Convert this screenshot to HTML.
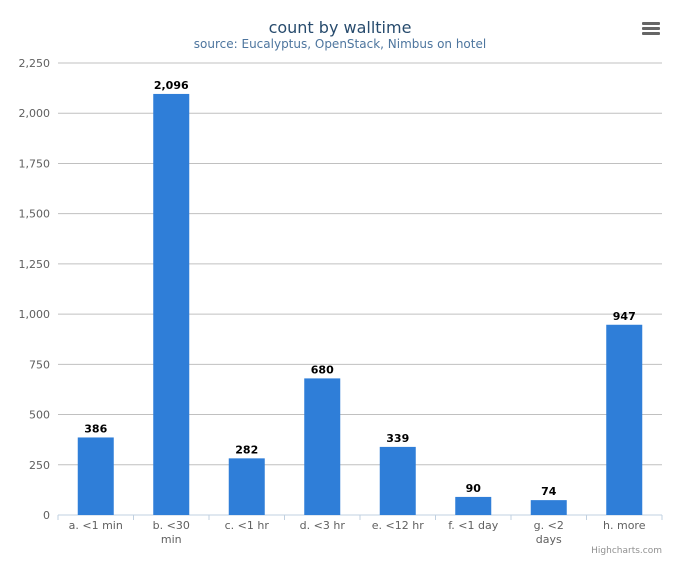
<!DOCTYPE html>
<html><head><meta charset="utf-8"><style>
body{margin:0;background:#fff;font-family:"DejaVu Sans","Liberation Sans",sans-serif;}
svg text{font-family:"DejaVu Sans","Liberation Sans",sans-serif;}
</style></head><body>
<svg id="chart" width="680" height="566">
<rect width="680" height="566" fill="#fff"/>
<text x="340" y="33" text-anchor="middle" font-size="16" fill="#274b6d">count by walltime</text>
<text x="340" y="48" text-anchor="middle" font-size="12" fill="#4d759e">source: Eucalyptus, OpenStack, Nimbus on hotel</text>
<g>
<rect x="642" y="22" width="18" height="3" rx="1" fill="#666"/>
<rect x="642" y="27" width="18" height="3" rx="1" fill="#666"/>
<rect x="642" y="32" width="18" height="3" rx="1" fill="#666"/>
</g>
<g id="grid"></g><g id="bars"></g><g id="xlabels"></g>
<text x="662" y="553" text-anchor="end" font-size="9" fill="#909090">Highcharts.com</text>
</svg>
<script>
const categories=[["a. <1 min"],["b. <30","min"],["c. <1 hr"],["d. <3 hr"],["e. <12 hr"],["f. <1 day"],["g. <2","days"],["h. more"]];
const values=[386,2096,282,680,339,90,74,947];
const ticks=[0,250,500,750,1000,1250,1500,1750,2000,2250];
const NS="http://www.w3.org/2000/svg";
const L=58,R=662,T=63,B=515,yMax=2250;
const y=v=>B-(v/yMax)*(B-T);
const step=(R-L)/categories.length;
const x=i=>L+step*(i+0.5);
function mk(t,a,p){const e=document.createElementNS(NS,t);for(const k in a)e.setAttribute(k,a[k]);p.appendChild(e);return e;}
const fmt=v=>v.toLocaleString("en-US");
const g=document.getElementById("grid");
ticks.forEach(t=>{
 const l=mk("line",{x1:L,x2:R,y1:y(t),y2:y(t),stroke:t===0?"#c0d0e0":"#c0c0c0","stroke-width":1},g);
 
 
 const tx=mk("text",{x:L-8,y:y(t)+4,"text-anchor":"end","font-size":11,fill:"#606060"},g);
 tx.textContent=fmt(t);
 
 
});
for(let i=0;i<=categories.length;i++){
 const tk=mk("line",{x1:L+step*i,x2:L+step*i,y1:B,y2:B+5,stroke:"#c0d0e0"},g);
 
 
}
const bg=document.getElementById("bars"),xg=document.getElementById("xlabels");
const bw=36;
values.forEach((v,i)=>{
 const r=mk("rect",{x:x(i)-bw/2,y:y(v),width:bw,height:B-y(v),fill:"#2f7ed8"},bg);
 
 
 const lt=mk("text",{x:x(i),y:y(v)-5,"text-anchor":"middle","font-size":11,"font-weight":"bold",fill:"#000"},bg);
 lt.textContent=fmt(v);
 
 
 categories[i].forEach((s,j)=>{
  const c=mk("text",{x:x(i),y:B+14+j*14,"text-anchor":"middle","font-size":11,fill:"#606060"},xg);
  c.textContent=s;
  
  
 });
});
</script>
</body></html>
